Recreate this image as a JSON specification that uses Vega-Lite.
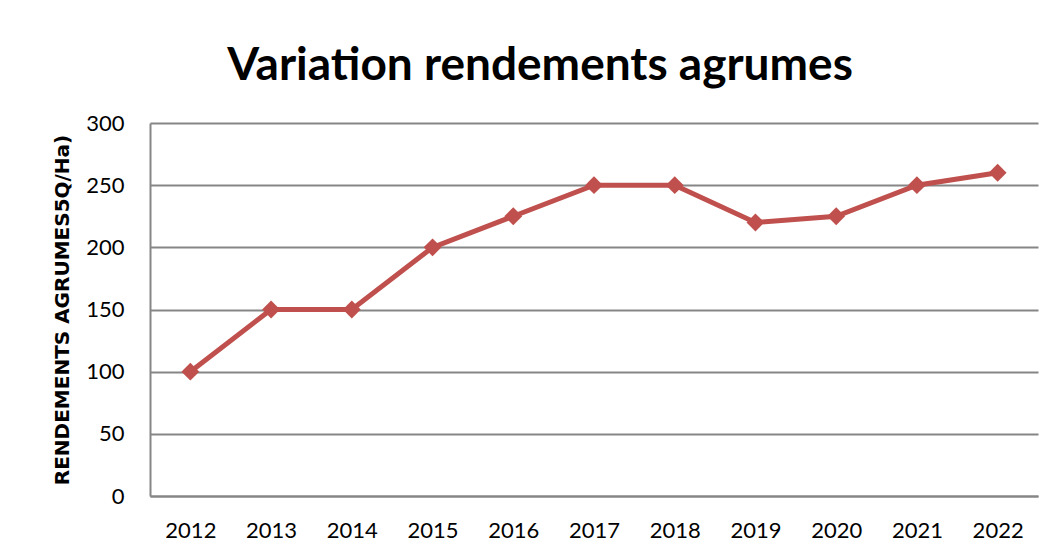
{
  "$schema": "https://vega.github.io/schema/vega-lite/v6.json",
  "width": 888,
  "height": 373,
  "autosize": "none",
  "padding": {"left": 150, "top": 123, "right": 17, "bottom": 59},
  "background": "white",
  "title": {
    "text": "Variation rendements agrumes",
    "font": "Lato",
    "fontSize": 46,
    "fontWeight": "bold",
    "color": "black",
    "anchor": "middle",
    "dx": -54,
    "offset": 22
  },
  "config": {
    "view": {"stroke": null},
    "axis": {"labelFont": "Lato", "titleFont": "DejaVu Sans", "labelColor": "black", "titleColor": "black"}
  },
  "data": {
    "values": [
      {"annee": "2012", "rendement": 100},
      {"annee": "2013", "rendement": 150},
      {"annee": "2014", "rendement": 150},
      {"annee": "2015", "rendement": 200},
      {"annee": "2016", "rendement": 225},
      {"annee": "2017", "rendement": 250},
      {"annee": "2018", "rendement": 250},
      {"annee": "2019", "rendement": 220},
      {"annee": "2020", "rendement": 225},
      {"annee": "2021", "rendement": 250},
      {"annee": "2022", "rendement": 260}
    ]
  },
  "encoding": {
    "x": {
      "field": "annee",
      "type": "ordinal",
      "scale": {"type": "point", "padding": 0.5},
      "axis": {
        "title": null,
        "labelAngle": 0,
        "labelFontSize": 22,
        "labelPadding": 24,
        "ticks": false,
        "domainColor": "#868686",
        "domainWidth": 2,
        "grid": false
      }
    },
    "y": {
      "field": "rendement",
      "type": "quantitative",
      "scale": {"domain": [0, 300]},
      "axis": {
        "title": "RENDEMENTS AGRUMES5Q/Ha)",
        "titleFontSize": 20,
        "titleFontWeight": "bold",
        "titlePadding": 13,
        "values": [0, 50, 100, 150, 200, 250, 300],
        "labelFontSize": 22,
        "labelPadding": 26,
        "ticks": false,
        "domainColor": "#868686",
        "domainWidth": 2,
        "grid": true,
        "gridColor": "#868686",
        "gridWidth": 2
      }
    }
  },
  "layer": [
    {"mark": {"type": "line", "color": "#C0504D", "strokeWidth": 5}},
    {"mark": {"type": "point", "shape": "diamond", "filled": true, "color": "#C0504D", "opacity": 1, "size": 320}}
  ]
}
